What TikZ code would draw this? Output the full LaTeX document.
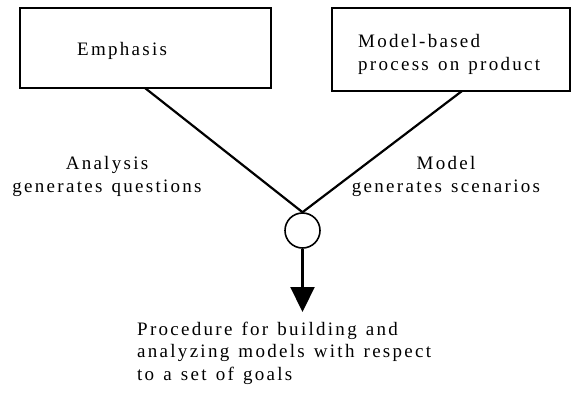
\documentclass[tikz,border=0pt]{standalone}
\usepackage{fontspec}
\setmainfont{Liberation Serif}[LetterSpace=12,WordSpace=1.3]
\usetikzlibrary{arrows.meta}
\begin{document}
\begin{tikzpicture}[x=1pt,y=-1pt,
  boxstyle/.style={draw,line width=1.4pt,inner sep=0pt},
  lbl/.style={inner sep=0pt,font=\fontsize{19}{22.5}\selectfont},
  link/.style={line width=2.2pt},
  junction/.style={draw,circle,line width=1.6pt,minimum size=35pt,inner sep=0pt}]
\useasboundingbox (0,0) rectangle (572,405);
\node[boxstyle,minimum width=251pt,minimum height=80pt] (emph) at (145.5,48) {};
\node[boxstyle,minimum width=238pt,minimum height=83pt] (model) at (451,49.5) {};
\node[lbl,anchor=base west] (emphtxt) at (77,55) {Emphasis};
\node[lbl,anchor=base west,align=left] (modeltxt) at (358,70) {Model-based\\process on product};
\node[junction] (c) at (302.5,230.5) {};
\coordinate (ls) at (145,88);
\coordinate (rs) at (462,91);
\coordinate (tip) at (302.5,312);
\draw[link] (ls) -- (c.north);
\draw[link] (rs) -- (c.north);
\draw[link,-{Triangle[length=25pt,width=24pt]}] (c.south) -- (tip);
\node[lbl,align=center,anchor=base] (qlbl) at (107,192) {Analysis\\generates questions};
\node[lbl,align=center,anchor=base] (slbl) at (446,192) {Model\\generates scenarios};
\node[lbl,align=left,anchor=base west] (proc) at (137,380) {Procedure for building and\\analyzing models with respect\\to a set of goals};
\end{tikzpicture}
\end{document}
